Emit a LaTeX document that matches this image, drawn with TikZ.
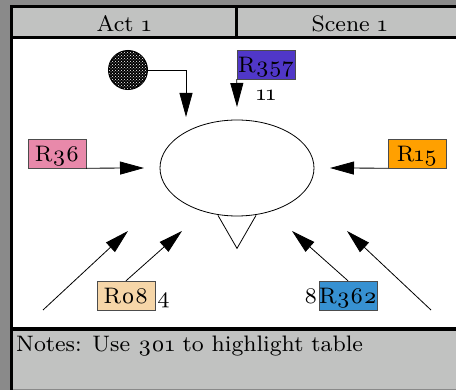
\documentclass[tikz,border=0pt]{standalone}
\usepackage{fontspec}
\setmainfont{lmroman8-regular.otf}[Numbers=OldStyle]
\usetikzlibrary{shapes.geometric,arrows.meta,patterns}
\definecolor{outergray}{RGB}{138,138,138}
\definecolor{panelgray}{RGB}{193,194,193}
\definecolor{rviolet}{RGB}{80,55,200}
\definecolor{rpink}{RGB}{232,137,170}
\definecolor{rorange}{RGB}{255,160,0}
\definecolor{rpeach}{RGB}{246,214,168}
\definecolor{rblue}{RGB}{55,145,210}
\begin{document}
\begin{tikzpicture}[x=1pt,y=-1pt]
            \tikzstyle{box} = [rectangle, draw=black!70, minimum width=58pt, minimum height=29pt, inner sep=0pt, text height=16pt, text depth=0pt, font=\fontsize{22.4}{26}\selectfont]
            \tikzstyle{num} = [inner sep=0pt, text height=16pt, text depth=0pt, font=\fontsize{22.4}{26}\selectfont]
            \tikzstyle{arrow} = [line width=0.8pt, -{Triangle[length=24pt,width=13pt]}]

            \useasboundingbox (0,0) rectangle (456,390);
            \fill[outergray] (0,0) rectangle (456,390);
            \fill[white] (11.5,6.5) rectangle (470,389);
            \fill[panelgray] (11.5,6.5) rectangle (470,37.5);
            \fill[panelgray] (11.5,329) rectangle (470,389);
            \draw[line width=3pt] (11.5,390) -- (11.5,6.5) -- (470,6.5);
            \draw[line width=3pt] (11.5,37.5) -- (470,37.5);
            \draw[line width=3pt] (236.5,6.5) -- (236.5,37.5);
            \draw[line width=3.5pt] (11.5,329) -- (470,329);

            \node (act) [num, anchor=base] at (124,31.5) {Act 1};
            \node (scene) [num, anchor=base] at (349.5,31.5) {Scene 1};
            \node (notes) [num, anchor=base west] at (16,352) {Notes: Use 301 to highlight table};

            \node (hub) [ellipse, draw, line width=0.8pt, minimum width=154pt, minimum height=96pt, inner sep=0pt] at (237,168) {};
            \draw[line width=0.8pt] (hub.south) ++(-19,-1) -- ++(19,33) -- ++(19,-33);

            \node (speck) [circle, draw, line width=2pt, minimum size=38pt, inner sep=0pt, fill=black, postaction={pattern=crosshatch dots, pattern color=white}] at (128,70) {};
            \node (r357) [box, fill=rviolet, label={[num, label distance=5pt]below:11}] at (266,64.5) {R357};
            \node (r36) [box, fill=rpink] at (57,153.5) {R36};
            \node (r15) [box, fill=rorange] at (417,153.5) {R15};
            \node (r08) [box, fill=rpeach, label={[num, label distance=2pt]right:4}] at (126,295.5) {R08};
            \node (r362) [box, fill=rblue, label={[num, label distance=1pt]left:8}] at (348,295.5) {R362};

            \coordinate (t1) at (186,117);
            \coordinate (t2) at (237,107);
            \coordinate (t3) at (144,168);
            \coordinate (t4) at (330,168);
            \coordinate (t5) at (128,231);
            \coordinate (t6) at (182,231);
            \coordinate (t7) at (292,231);
            \coordinate (t8) at (347,231);
            \coordinate (s5) at (43,310);
            \coordinate (s8) at (431,310);

            \draw[arrow] (speck.east) -| (t1);
            \draw[arrow] (r357.south west) -- (t2);
            \draw[arrow] (r36.south east) -- (t3);
            \draw[arrow] (r15.south west) -- (t4);
            \draw[arrow] (s5) -- (t5);
            \draw[arrow] (r08.north) -- (t6);
            \draw[arrow] (r362.north) -- (t7);
            \draw[arrow] (s8) -- (t8);
\end{tikzpicture}
\end{document}
